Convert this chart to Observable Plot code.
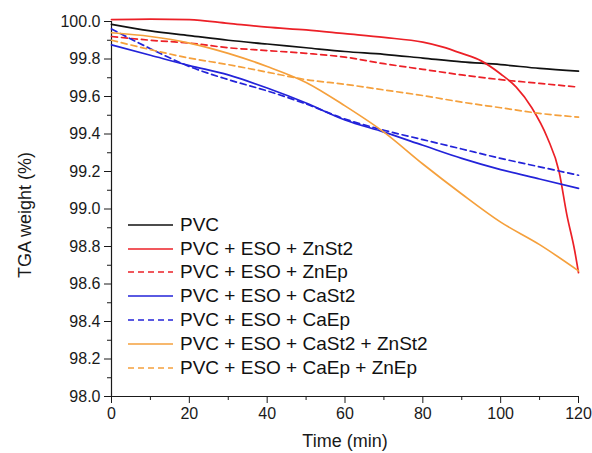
<!DOCTYPE html>
<html><head><meta charset="utf-8">
<script src="https://cdn.jsdelivr.net/npm/d3@7"></script>
<script src="https://cdn.jsdelivr.net/npm/@observablehq/plot@0.6"></script>
<style>
body{margin:0;background:#fff;font-family:"Liberation Sans",Arial,sans-serif;}
#chart{position:relative;width:592px;height:453px;}
#legend{position:absolute;left:128px;top:213px;}
.row{display:flex;align-items:center;height:23.8px;font-size:19px;color:#111;white-space:nowrap;}
.row svg{margin-right:7px;display:block;}
</style></head><body><div id="chart"></div>
<script>
// ---- data ----
const seriesNames = ["PVC","PVC + ESO + ZnSt2","PVC + ESO + ZnEp","PVC + ESO + CaSt2","PVC + ESO + CaEp","PVC + ESO + CaSt2 + ZnSt2","PVC + ESO + CaEp + ZnEp"];
const time = [0,10,20,30,40,50,60,70,80,90,100,110,120];
const pvc      = [99.985,99.95,99.925,99.90,99.88,99.86,99.84,99.825,99.805,99.785,99.77,99.75,99.735];
const znEp     = [99.92,99.90,99.885,99.86,99.845,99.83,99.81,99.775,99.745,99.715,99.69,99.67,99.65];
const caSt2    = [99.875,99.82,99.765,99.715,99.645,99.565,99.475,99.41,99.34,99.27,99.21,99.16,99.11];
const caEp     = [99.96,99.855,99.76,99.69,99.63,99.56,99.48,99.42,99.37,99.32,99.27,99.225,99.18];
const caZnSt2  = [99.94,99.92,99.885,99.83,99.76,99.675,99.55,99.41,99.24,99.08,98.93,98.81,98.67];
const caZnEp   = [99.90,99.85,99.805,99.77,99.73,99.69,99.665,99.635,99.605,99.57,99.54,99.51,99.49];
const timeZnSt2 = [0,10,20,30,40,50,60,70,80,85,90,95,100,104,108,112,115,117,119,120];
const znSt2    = [100.01,100.013,100.01,99.99,99.97,99.955,99.935,99.915,99.89,99.865,99.83,99.79,99.72,99.65,99.54,99.38,99.2,98.97,98.78,98.66];
const xTicks = [0,20,40,60,80,100,120];
const xMinor = [10,30,50,70,90,110];
const yTicks = [98.0,98.2,98.4,98.6,98.8,99.0,99.2,99.4,99.6,99.8,100.0];
const yMinor = [98.1,98.3,98.5,98.7,98.9,99.1,99.3,99.5,99.7,99.9];

// ---- styles ----
const colors = ["#111111","#ec2027","#ec2027","#2323d9","#2323d9","#f5a03c","#f5a03c"];
const dashes = [null,null,"6,4",null,"6,4",null,"6,4"];

const seriesData = [
  [time,pvc],[timeZnSt2,znSt2],[time,znEp],[time,caSt2],[time,caEp],[time,caZnSt2],[time,caZnEp]
].map(([t,w],i)=>t.map((tt,j)=>({series:seriesNames[i],time:tt,weight:w[j]})));

const lines = seriesData.map((rows,i)=>Plot.line(rows,{x:"time",y:"weight",stroke:colors[i],strokeWidth:1.7,strokeDasharray:dashes[i]||undefined,curve:"monotone-x"}));

const plot = Plot.plot({
  width:592, height:453,
  marginLeft:111, marginRight:14, marginTop:21, marginBottom:57,
  style:{fontFamily:"Liberation Sans, Arial, sans-serif", fontSize:"16px", color:"#1a1a1a", background:"#fff"},
  x:{domain:[0,120]},
  y:{domain:[98,100]},
  marks:[
    Plot.axisX({ticks:xTicks, tickSize:7, tickPadding:4, tickFormat:d=>String(d), label:null, fontSize:16}),
    Plot.axisX({ticks:xMinor, tickSize:4, tickFormat:()=>"", label:null}),
    Plot.axisY({ticks:yTicks, tickSize:7, tickPadding:4, tickFormat:d3.format(".1f"), label:null, fontSize:16}),
    Plot.axisY({ticks:yMinor, tickSize:4, tickFormat:()=>"", label:null}),
    Plot.ruleX([xTicks[0]],{stroke:"#1a1a1a",strokeWidth:1.2}),
    Plot.ruleY([yTicks[0]],{stroke:"#1a1a1a",strokeWidth:1.2}),
    ...lines,
    Plot.text(["Time (min)"],{frameAnchor:"bottom",lineAnchor:"middle",dy:45,fontSize:18,fill:"#1a1a1a"}),
    Plot.text(["TGA weight (%)"],{frameAnchor:"left",textAnchor:"middle",lineAnchor:"middle",rotate:-90,dx:-86,dy:6,fontSize:18,fill:"#1a1a1a"})
  ]
});
const chart = document.getElementById("chart");
chart.appendChild(plot);

const legend = document.createElement("div");
legend.id = "legend";
seriesNames.forEach((name,i)=>{
  const row = document.createElement("div");
  row.className = "row";
  row.innerHTML = `<svg width="45" height="4"><line x1="0" y1="2" x2="45" y2="2" stroke="${colors[i]}" stroke-width="1.7" ${dashes[i]?`stroke-dasharray="${dashes[i]}"`:""}/></svg><span>${name}</span>`;
  legend.appendChild(row);
});
chart.appendChild(legend);
</script></body></html>
